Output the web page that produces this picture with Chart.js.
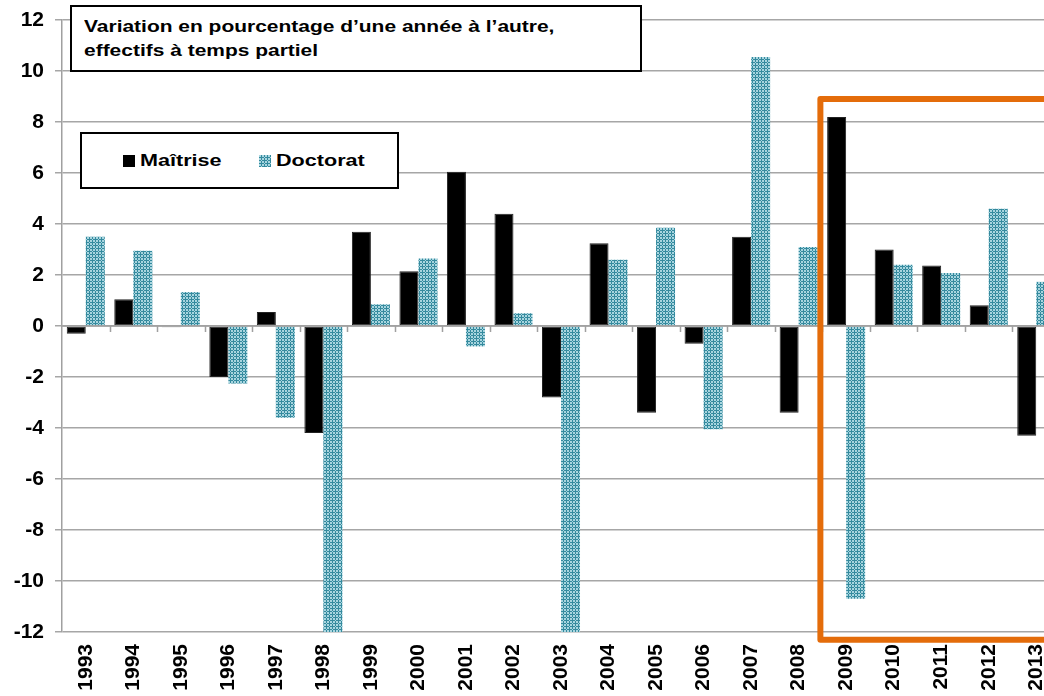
<!DOCTYPE html>
<html>
<head>
<meta charset="utf-8">
<script src="https://cdn.jsdelivr.net/npm/chart.js@4/dist/chart.umd.min.js"></script>
<style>
  html, body { margin: 0; padding: 0; background: #fff; overflow: hidden; }
  #wrap { position: relative; width: 1060px; height: 696px; }
  .box {
    position: absolute; background: #fff; border: 2px solid #000;
    font-family: "Liberation Sans", Arial, sans-serif; font-weight: bold; color: #000;
    box-sizing: border-box; white-space: nowrap;
  }
  .wide { display: inline-block; transform: scaleX(1.27); transform-origin: left center; }
  #title { left: 70px; top: 5px; width: 572px; height: 67px; font-size: 16.5px; line-height: 24px; padding: 7px 0 0 12px; }
  #legend { left: 80px; top: 132px; width: 319px; height: 57px; font-size: 17px; }
  .item { position: absolute; top: 17px; }
  .sw { display: inline-block; width: 12px; height: 12px; vertical-align: -1px; }
</style>
</head>
<body>
<div id="wrap">
  <canvas id="chart" width="1060" height="696"></canvas>
  <div id="title" class="box"><span class="wide">Variation en pourcentage d’une année à l’autre,</span><br><span class="wide">effectifs à temps partiel</span></div>
  <div id="legend" class="box">
    <span class="item" style="left:41px"><span class="sw" style="background:#000"></span> <span class="wide">Maîtrise</span></span>
    <span class="item" style="left:177px"><span class="sw" id="docSw"></span> <span class="wide">Doctorat</span></span>
  </div>
</div>
<script>
const years = ["1993", "1994", "1995", "1996", "1997", "1998", "1999", "2000", "2001", "2002", "2003",
  "2004", "2005", "2006", "2007", "2008", "2009", "2010", "2011", "2012", "2013"];
const maitrise = [-0.3, 1.05, -0.05, -2.0, 0.55, -4.2, 3.7, 2.15, 6.05, 4.4, -2.8,
  3.25, -3.4, -0.7, 3.5, -3.4, 8.2, 3.0, 2.37, 0.81, -4.3];
const doctorat = [3.5, 2.95, 1.33, -2.25, -3.6, -12, 0.85, 2.65, -0.8, 0.5, -12,
  2.6, 3.85, -4.05, 10.55, 3.1, -10.7, 2.4, 2.08, 4.6, 1.73];
const yTicks = { min: -12, max: 12, step: 2 };
// highlighted period, in axis units
const boxFrom = "2009";
const boxTop = 8.9;
const boxBottom = -12.3;

// dotted blue fill for Doctorat
const pc = document.createElement("canvas");
pc.width = 6; pc.height = 6;
const p = pc.getContext("2d");
p.fillStyle = "#a8d5df";
p.fillRect(0, 0, 6, 6);
p.fillStyle = "#348a9e";
p.fillRect(0, 2, 5, 1);
p.fillRect(2, 0, 1, 5);
p.fillRect(3, 5, 3, 1);
p.fillRect(0, 5, 2, 1);
p.fillRect(5, 3, 1, 2);
p.fillRect(5, 0, 1, 2);
const ctx = document.getElementById("chart");
const docPattern = ctx.getContext("2d").createPattern(pc, "repeat");
document.getElementById("docSw").style.background = "url(" + pc.toDataURL() + ")";

Chart.defaults.font.family = "'Liberation Sans', Arial, sans-serif";
Chart.defaults.font.weight = "bold";
Chart.defaults.color = "#000";

const extras = {
  id: "extras",
  afterDatasetsDraw(chart) {
    const { ctx, scales: { x, y }, chartArea } = chart;
    const half = (x.getPixelForValue(1) - x.getPixelForValue(0)) / 2;
    const y0 = y.getPixelForValue(0);
    ctx.save();
    // zero line with category ticks
    ctx.strokeStyle = "#a0a0a0";
    ctx.lineWidth = 1.5;
    ctx.beginPath();
    ctx.moveTo(chartArea.left, y0);
    ctx.lineTo(chartArea.right, y0);
    for (let i = 1; i < years.length; i++) {
      const px = Math.round(x.getPixelForValue(i) - half) + 0.5;
      ctx.moveTo(px, y0);
      ctx.lineTo(px, y0 + 6);
    }
    ctx.stroke();
    // orange highlight box
    const i0 = years.indexOf(boxFrom);
    const left = x.getPixelForValue(i0) - half - 2;
    const top = y.getPixelForValue(boxTop);
    const bottom = y.getPixelForValue(boxBottom);
    ctx.strokeStyle = "#E46C0A";
    ctx.lineWidth = 6;
    ctx.lineJoin = "round";
    ctx.beginPath();
    ctx.moveTo(chart.width + 10, top);
    ctx.lineTo(left, top);
    ctx.lineTo(left, bottom);
    ctx.lineTo(chart.width + 10, bottom);
    ctx.stroke();
    ctx.restore();
  }
};

new Chart(ctx, {
  type: "bar",
  data: {
    labels: years,
    datasets: [
      { label: "Maîtrise", data: maitrise, backgroundColor: "#000", borderColor: "#222", borderWidth: 1, borderSkipped: false },
      { label: "Doctorat", data: doctorat, backgroundColor: docPattern, borderWidth: 0 },
    ],
  },
  options: {
    responsive: false,
    animation: false,
    categoryPercentage: 0.8,
    barPercentage: 1.0,
    layout: { padding: { top: 20, right: 0, bottom: 0, left: 0 } },
    plugins: { legend: { display: false }, tooltip: { enabled: false } },
    scales: {
      x: {
        grid: { display: false },
        border: { display: false },
        ticks: { font: { size: 21 }, minRotation: 90, maxRotation: 90, padding: 4, autoSkip: false },
        afterFit(s) { s.height = 64; s.paddingLeft = 0; s.paddingRight = 0; },
      },
      y: {
        min: yTicks.min,
        max: yTicks.max,
        ticks: { stepSize: yTicks.step, font: { size: 21 }, padding: 11 },
        grid: { color: "#a6a6a6", lineWidth: 1.5, tickLength: 7 },
        border: { color: "#a0a0a0", width: 1.5 },
        afterFit(s) { s.width = 62; s.paddingTop = 0; s.paddingBottom = 0; },
      },
    },
  },
  plugins: [extras],
});
</script>
</body>
</html>
